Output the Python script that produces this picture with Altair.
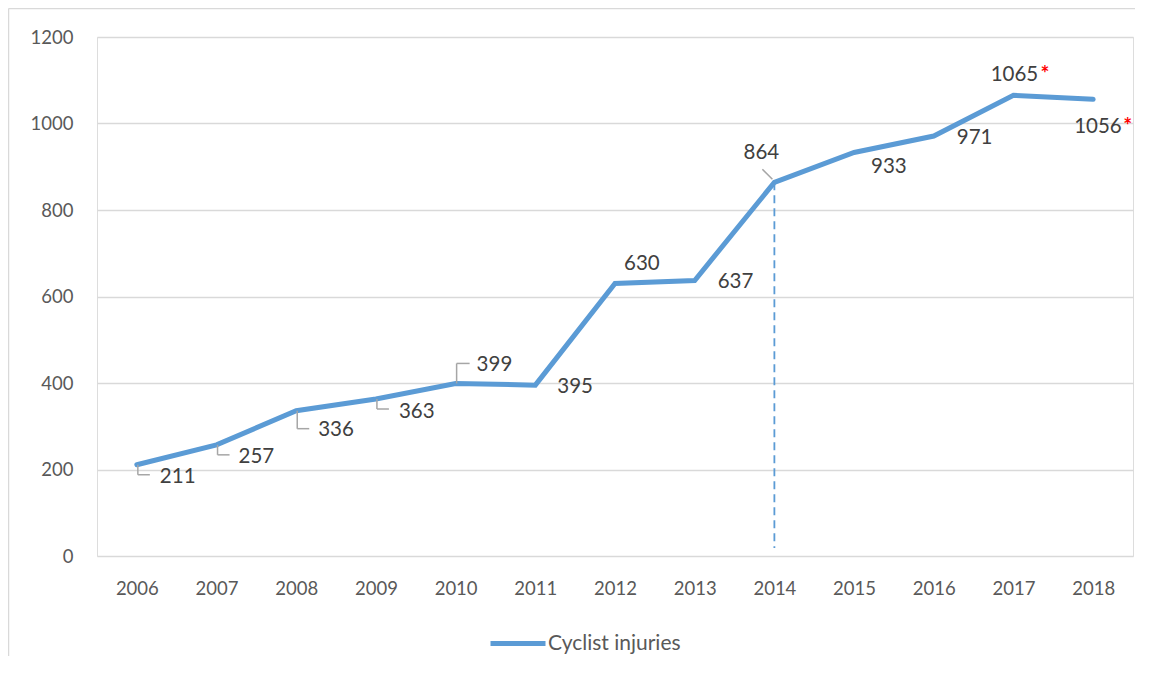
import altair as alt
import pandas as pd

years = [str(y) for y in range(2006, 2019)]
injuries = [211, 257, 336, 363, 399, 395, 630, 637, 864, 933, 971, 1065, 1056]
series_name = "Cyclist injuries"
y_ticks = [0, 200, 400, 600, 800, 1000, 1200]
starred_years = ["2017", "2018"]
dashed_year = "2014"

df = pd.DataFrame({"year": years, "value": injuries, "series": series_name})
df["label"] = df["value"].astype(str)

W, H = 1036, 519
BLUE = "#5B9BD5"
FONT = "Lato"

base = alt.Chart(df)
X = alt.X("year:O", scale=alt.Scale(type="point", padding=0.5),
          axis=alt.Axis(title=None, labelAngle=0, labelFontSize=18.5, labelColor="#595959",
                        labelFont=FONT, labelPadding=23, domain=False, ticks=False, grid=False))
Y = alt.Y("value:Q", scale=alt.Scale(domain=[0, 1200], nice=False),
          axis=alt.Axis(title=None, values=y_ticks, format="d", labelFontSize=18.5,
                        labelColor="#595959", labelFont=FONT, labelPadding=24, domain=False,
                        ticks=False, grid=True, gridColor="#D9D9D9", gridWidth=1.5))

one = pd.DataFrame({"a": [0]})
border_left = alt.Chart(one).mark_rule(color="#D9D9D9", strokeWidth=1.5).encode(
    x=alt.value(-88.5), y=alt.value(-28.5), y2=alt.value(H + 200))
border_top = alt.Chart(one).mark_rule(color="#D9D9D9", strokeWidth=1.5).encode(
    x=alt.value(-88.5), x2=alt.value(W + 200), y=alt.value(-28.5))

dashed = base.transform_filter(alt.datum.year == dashed_year).mark_rule(
    color=BLUE, strokeWidth=1.8, strokeDash=[8, 5], y2Offset=-8
).encode(x=X, y=Y, y2=alt.Y2(datum=0))

line = base.mark_line(strokeWidth=5, strokeCap="round", strokeJoin="miter").encode(
    x=X, y=Y,
    color=alt.Color("series:N", scale=alt.Scale(range=[BLUE]),
                    legend=alt.Legend(title=None, orient="none", legendX=391, legendY=576.5,
                                      symbolType="stroke", symbolSize=3025, symbolStrokeWidth=5,
                                      labelFontSize=21, labelFont=FONT, labelColor="#595959",
                                      labelOffset=0, padding=0))
)

GRAY = "#A6A6A6"
layers = [border_left, border_top, dashed, line]


def leader(yrs, down, right):
    sel = base.transform_filter(alt.FieldOneOfPredicate(field="year", oneOf=yrs))
    v = sel.mark_rule(color=GRAY, strokeWidth=1.5, xOffset=1, x2Offset=1, y2Offset=down).encode(
        x=X, y=Y, y2="value:Q")
    h = sel.mark_rule(color=GRAY, strokeWidth=1.5, xOffset=1, x2Offset=1 + right, yOffset=down).encode(
        x=X, x2="year:O", y=Y)
    return [v, h]


layers += leader(["2006", "2007", "2009"], 10, 12)
layers += leader(["2008"], 18, 12)
layers += leader(["2010"], -20, 13)
diag = base.transform_filter(alt.datum.year == "2014").mark_rule(
    color=GRAY, strokeWidth=1.5, xOffset=-2, x2Offset=-12, yOffset=-3, y2Offset=-13
).encode(x=X, x2="year:O", y=Y, y2="value:Q")
layers.append(diag)

label_specs = {
    "2006": (23, 12, "left"), "2007": (22, 12, "left"), "2008": (22, 19, "left"),
    "2009": (23, 13, "left"), "2010": (21, -18, "left"), "2011": (22, 2, "left"),
    "2012": (9, -20, "left"), "2013": (23, 1.5, "left"), "2014": (-13, -29, "center"),
    "2015": (17, 14.5, "left"), "2016": (23, 2, "left"), "2017": (1, -20, "center"),
    "2018": (-19, 28, "left"),
}
for yr, (dx, dy, al) in label_specs.items():
    layers.append(base.transform_filter(alt.datum.year == yr).mark_text(
        dx=dx, dy=dy, align=al, baseline="middle", fontSize=20.5, font=FONT, color="#404040"
    ).encode(x=X, y=Y, text="label:N"))

star_specs = {"2017": (27, -20), "2018": (30, 28)}
for yr, (dx, dy) in star_specs.items():
    layers.append(base.transform_filter(alt.datum.year == yr).mark_text(
        text="*", dx=dx, dy=dy, align="left", baseline="middle", fontSize=21, font=FONT,
        fontWeight="bold", color="#FF0000"
    ).encode(x=X, y=Y))

chart = alt.layer(*layers).properties(
    width=W, height=H,
    autosize=alt.AutoSizeParams(type="none"),
    padding={"left": 89, "top": 29, "right": 2, "bottom": 100},
).configure_view(stroke=None).configure(background="white")

chart.save("out.html", embed_options={"renderer": "svg", "actions": False})
